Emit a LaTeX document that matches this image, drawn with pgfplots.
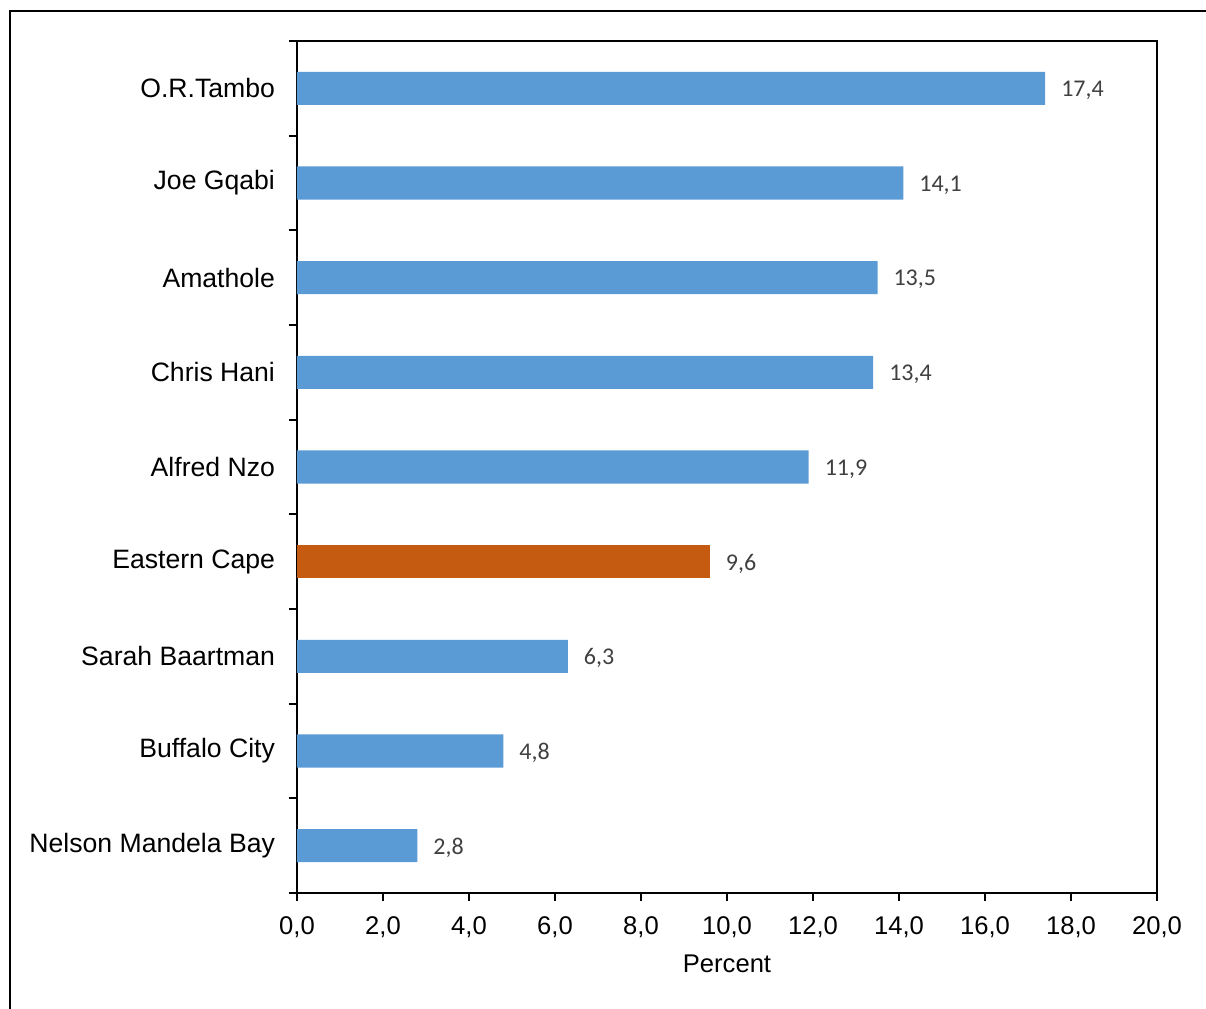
\documentclass[border=0pt]{standalone}
\usepackage{pgfplots}
\pgfplotsset{compat=1.18}
\usepackage{fontspec}
\setmainfont{Liberation Sans}
\newfontfamily\carlito{Carlito}
\definecolor{barblue}{HTML}{5B9BD5}
\definecolor{barorange}{HTML}{C55A11}
\definecolor{lblgray}{HTML}{404040}
\begin{document}
\begin{tikzpicture}
\useasboundingbox (0pt,0pt) rectangle (603pt,504pt);
\draw[line width=1.3pt] (5pt,-20pt) -- (5pt,498.5pt) -- (630pt,498.5pt);
\begin{axis}[
  at={(148.5pt,57.5pt)}, anchor=south west,
  scale only axis, width=430pt, height=426pt,
  xbar, bar shift=0pt, bar width=0.35,
  xmin=0, xmax=20, ymin=-0.5, ymax=8.5,
  xtick={0,2,...,20},
  ytick={0,...,8},
  yticklabels={Nelson Mandela Bay, Buffalo City, Sarah Baartman, Eastern Cape, Alfred Nzo, Chris Hani, Amathole, Joe Gqabi, O.R.Tambo},
  extra y ticks={-0.5,0.5,...,8.5},
  extra y tick labels={},
  extra y tick style={ytick style={draw=black, line width=1.1pt}},
  ytick style={draw=none},
  xtick style={draw=black, line width=1.1pt},
  tick align=outside, major tick length=4pt,
  xtick pos=bottom, ytick pos=left,
  axis line style={line width=1.1pt},
  /pgf/number format/.cd, fixed, fixed zerofill, precision=1, use comma, assume math mode=true,
  /pgfplots/.cd,
  xticklabel style={font=\fontsize{12.8}{15}\selectfont, yshift=-4.5pt},
  yticklabel style={font=\fontsize{13.3}{15}\selectfont, xshift=-3.5pt},
  xlabel={Percent},
  xlabel style={font=\fontsize{12.8}{15}\selectfont, yshift=-1.5pt},
  nodes near coords={\pgfmathprintnumber[fixed,fixed zerofill,precision=1,use comma]{\pgfplotspointmeta}},
  nodes near coords style={font=\carlito\fontsize{12}{14}\selectfont, color=lblgray, anchor=west, xshift=4.5pt, yshift=-1pt},
]
\addplot[fill=barblue, draw=none] coordinates {
(2.8,0) (4.8,1) (6.3,2) (11.9,4) (13.4,5) (13.5,6) (14.1,7) (17.4,8)
};
\addplot[fill=barorange, draw=none] coordinates {
(9.6,3)
};
\end{axis}
\end{tikzpicture}
\end{document}
